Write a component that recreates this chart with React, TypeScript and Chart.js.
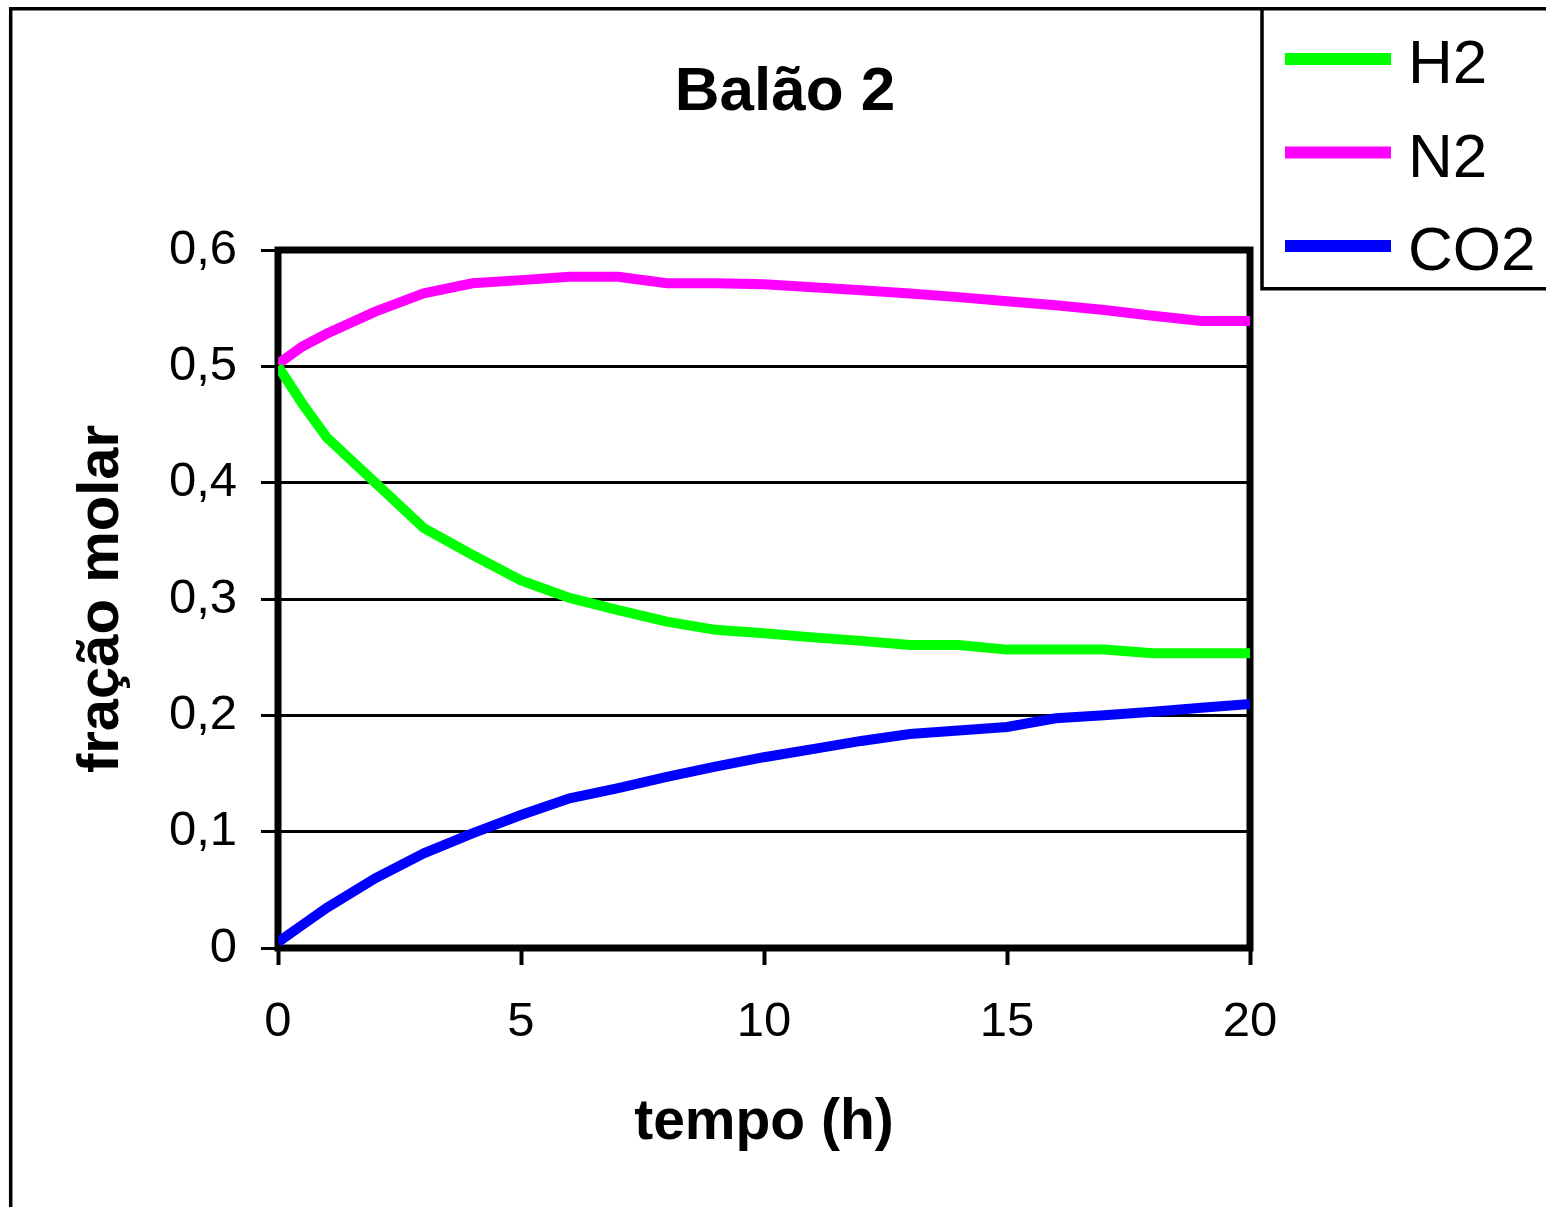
import React, { useEffect, useRef } from "react";
import { Chart, registerables } from "chart.js";

Chart.register(...registerables);

// ---- data ----
const tempo = [0, 0.5, 1, 2, 3, 4, 5, 6, 7, 8, 9, 10, 11, 12, 13, 14, 15, 16, 17, 18, 19, 20];
const h2 = [0.5, 0.468, 0.439, 0.4, 0.361, 0.338, 0.316, 0.301, 0.2905, 0.2805, 0.2735, 0.2705, 0.267, 0.264, 0.2605, 0.2605, 0.2565, 0.2565, 0.2565, 0.2533, 0.2533, 0.2533];
const n2 = [0.502, 0.517, 0.528, 0.547, 0.5628, 0.5714, 0.5741, 0.577, 0.577, 0.5714, 0.5714, 0.5705, 0.568, 0.5655, 0.5627, 0.5595, 0.556, 0.5525, 0.5485, 0.5435, 0.539, 0.539];
const co2 = [0.005, 0.0198, 0.0344, 0.0599, 0.0814, 0.0986, 0.1143, 0.1287, 0.1375, 0.147, 0.1559, 0.164, 0.171, 0.178, 0.184, 0.187, 0.19, 0.1975, 0.2, 0.203, 0.2065, 0.2097];

const seriesLabels = ["H2", "N2", "CO2"];
const seriesColors = ["#00FF00", "#FF00FF", "#0000FF"];

const chartTitle = "Balão 2";
const xAxisTitle = "tempo (h)";
const yAxisTitle = "fração molar";
const xMin = 0;
const xMax = 20;
const xStep = 5;
const yMin = 0;
const yMax = 0.6;
const yStep = 0.1;

const FONT = "'Liberation Sans', Arial, Helvetica, sans-serif";

const decorPlugin = {
  id: "decor",
  beforeDraw(chart: any) {
    const ctx = chart.ctx;
    const W = chart.width;
    const H = chart.height;
    ctx.save();
    ctx.fillStyle = "#ffffff";
    ctx.fillRect(0, 0, W, H);
    ctx.strokeStyle = "#000000";
    // outer frame (left + top; right/bottom are outside the picture)
    ctx.lineWidth = 3.5;
    ctx.beginPath();
    ctx.moveTo(10.7, H + 5);
    ctx.lineTo(10.7, 8.8);
    ctx.lineTo(W + 5, 8.8);
    ctx.stroke();
    // legend box
    ctx.lineWidth = 3.5;
    ctx.beginPath();
    ctx.moveTo(1262, 8.8);
    ctx.lineTo(1262, 288.7);
    ctx.lineTo(W + 5, 288.7);
    ctx.stroke();
    ctx.restore();
  },
  beforeDatasetsDraw(chart: any) {
    const { ctx, chartArea } = chart;
    ctx.save();
    ctx.strokeStyle = "#000000";
    ctx.lineWidth = 7;
    ctx.lineJoin = "miter";
    ctx.strokeRect(chartArea.left, chartArea.top, chartArea.right - chartArea.left, chartArea.bottom - chartArea.top);
    ctx.restore();
  },
  afterDraw(chart: any) {
    const ctx = chart.ctx;
    ctx.save();
    // title
    ctx.fillStyle = "#000000";
    ctx.font = `bold 62px ${FONT}`;
    ctx.textAlign = "center";
    ctx.textBaseline = "alphabetic";
    ctx.fillText(chartTitle, 785, 110);
    // legend
    chart.data.datasets.forEach((ds: any, i: number) => {
      const yLine = 59 + i * 93.5;
      ctx.strokeStyle = ds.borderColor;
      ctx.lineWidth = 12;
      ctx.lineCap = "butt";
      ctx.beginPath();
      ctx.moveTo(1285, yLine);
      ctx.lineTo(1391, yLine);
      ctx.stroke();
      ctx.fillStyle = "#000000";
      ctx.font = `62px ${FONT}`;
      ctx.textAlign = "left";
      ctx.textBaseline = "alphabetic";
      ctx.fillText(ds.label, 1408, 83 + i * 93.5);
    });
    ctx.restore();
  },
};

function fmtY(v: number) {
  if (Math.abs(v) < 1e-9) return "0";
  return v.toFixed(1).replace(".", ",");
}

export default function App() {
  const canvasRef = useRef<HTMLCanvasElement | null>(null);

  useEffect(() => {
    const canvas = canvasRef.current;
    if (!canvas) return;
    const series = [h2, n2, co2];
    const chart = new Chart(canvas, {
      type: "line",
      data: {
        datasets: series.map((vals, i) => ({
          label: seriesLabels[i],
          data: tempo.map((t, k) => ({ x: t, y: vals[k] })),
          borderColor: seriesColors[i],
          backgroundColor: seriesColors[i],
          borderWidth: 10,
          pointRadius: 0,
          tension: 0,
          fill: false,
        })),
      },
      options: {
        responsive: false,
        animation: false,
        devicePixelRatio: 1,
        layout: { padding: { left: 0, top: 250, right: 296, bottom: 0 } },
        plugins: {
          legend: { display: false },
          title: { display: false },
          tooltip: { enabled: false },
        },
        scales: {
          x: {
            type: "linear",
            min: xMin,
            max: xMax,
            afterFit: (scale: any) => {
              scale.height = 259;
            },
            border: { display: false },
            grid: {
              drawOnChartArea: false,
              drawTicks: true,
              tickLength: 17,
              tickWidth: 4,
              tickColor: "#000000",
              color: "#000000",
            },
            ticks: {
              stepSize: xStep,
              padding: 28,
              color: "#000000",
              font: { family: FONT, size: 49 },
              maxRotation: 0,
              callback: (v: any) => String(v),
            },
            title: {
              display: true,
              text: xAxisTitle,
              color: "#000000",
              font: { family: FONT, size: 57, weight: "bold" },
              padding: { top: 0, bottom: 50 },
            },
          },
          y: {
            type: "linear",
            min: yMin,
            max: yMax,
            afterFit: (scale: any) => {
              scale.width = 278;
            },
            border: { display: false },
            grid: {
              drawOnChartArea: true,
              drawTicks: true,
              tickLength: 17,
              lineWidth: 3,
              tickWidth: 3,
              color: "#000000",
              tickColor: "#000000",
            },
            ticks: {
              stepSize: yStep,
              padding: 24,
              color: "#000000",
              font: { family: FONT, size: 49 },
              callback: (v: any) => fmtY(Number(v)),
            },
            title: {
              display: true,
              text: yAxisTitle,
              color: "#000000",
              font: { family: FONT, size: 58, weight: "bold" },
              padding: { top: 67, bottom: 0 },
            },
          },
        },
      },
      plugins: [decorPlugin],
    } as any);
    return () => {
      chart.destroy();
    };
  }, []);

  return (
    <div style={{ position: "fixed", left: 0, top: 0, width: 1546, height: 1207, background: "#fff" }}>
      <canvas ref={canvasRef} width={1546} height={1207} style={{ display: "block", width: 1546, height: 1207 }} />
    </div>
  );
}
